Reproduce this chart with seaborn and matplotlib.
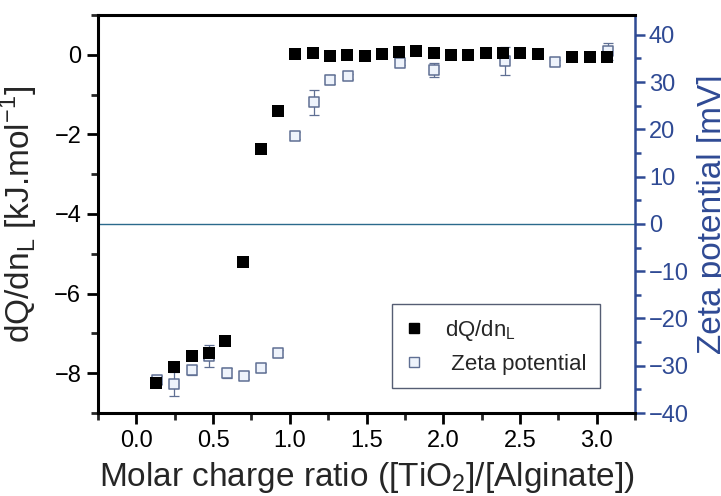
import numpy as np
import pandas as pd
import matplotlib
matplotlib.use("Agg")
import matplotlib.pyplot as plt
from matplotlib.lines import Line2D
from matplotlib.ticker import MultipleLocator
from matplotlib import font_manager
import seaborn as sns

# ---- data ----
ratio_dq = [0.128, 0.243, 0.361, 0.472, 0.580, 0.696, 0.810, 0.920, 1.035, 1.150,
            1.264, 1.374, 1.487, 1.600, 1.715, 1.825, 1.940, 2.050, 2.160, 2.277,
            2.390, 2.500, 2.620, 2.840, 2.955, 3.070]
dq_values = [-8.25, -7.84, -7.58, -7.48, -7.18, -5.21, -2.37, -1.40, 0.01, 0.04,
             -0.02, 0.00, -0.02, 0.02, 0.08, 0.10, 0.04, 0.00, 0.00, 0.04,
             0.05, 0.04, 0.01, -0.05, -0.05, -0.05]

ratio_zeta = [0.135, 0.248, 0.360, 0.476, 0.589, 0.700, 0.813, 0.926, 1.037, 1.155,
              1.265, 1.378, 1.720, 1.940, 2.400, 2.730, 3.075]
zeta_values = [-33.0, -33.9, -31.0, -27.9, -31.5, -32.1, -30.5, -27.4, 18.7, 25.7,
               30.5, 31.2, 34.1, 32.6, 34.5, 34.2, 36.5]
zeta_err = [0.8, 2.5, 1.0, 2.3, 1.0, 0.8, 0.8, 0.8, 0.8, 2.6,
            1.0, 0.5, 0.5, 1.5, 3.0, 0.5, 1.8]

x_ticks = [0.0, 0.5, 1.0, 1.5, 2.0, 2.5, 3.0]
left_ticks = [-8, -6, -4, -2, 0]
right_ticks = [-40, -30, -20, -10, 0, 10, 20, 30, 40]

df_dq = pd.DataFrame({"ratio": ratio_dq, "dq": dq_values})
df_z = pd.DataFrame({"ratio": ratio_zeta, "zeta": zeta_values, "err": zeta_err})

# ---- style ----
sns.set_style("ticks")
names = {f.name for f in font_manager.fontManager.ttflist}
narrow = "Liberation Sans Narrow" if "Liberation Sans Narrow" in names else "Liberation Sans"
plt.rcParams["font.family"] = ["Liberation Sans", "DejaVu Sans"]
plt.rcParams["mathtext.fontset"] = "custom"
plt.rcParams["mathtext.rm"] = "Liberation Sans"

BLUE = "#2f4a94"
ZEDGE = "#5f6f93"
ZFILL = "#eef3fb"

fig = plt.figure(figsize=(7.21, 4.96), dpi=100)
ax = fig.add_axes([98/721, 1-413/496, (635-98)/721, (413-15)/496])
ax2 = ax.twinx()

# zero line of zeta
ax2.axhline(0, color="#2b6a8c", lw=1.0, zorder=1)

sns.scatterplot(data=df_dq, x="ratio", y="dq", ax=ax, marker="s", s=8.6**2,
                color="black", edgecolor="black", linewidth=0, zorder=3, legend=False)

ax2.errorbar(df_z["ratio"], df_z["zeta"], yerr=df_z["err"], fmt="none",
             ecolor=ZEDGE, elinewidth=0.9, capsize=3.5, capthick=0.9, zorder=3)
sns.scatterplot(data=df_z, x="ratio", y="zeta", ax=ax2, marker="s", s=7.6**2,
                color=ZFILL, edgecolor=ZEDGE, linewidth=1.1, zorder=4, legend=False)

# put left axis above? keep twin on top for markers
ax.set_zorder(ax2.get_zorder() + 1)
ax.patch.set_visible(False)

ax.set_xlim(-0.25, 3.25)
ax.set_ylim(-9, 1)
ax2.set_ylim(-40, 44.2)

ax.set_xticks(x_ticks)
ax.set_xticklabels([f"{v:.1f}" for v in x_ticks])
ax.xaxis.set_minor_locator(MultipleLocator(0.25))
ax.set_yticks(left_ticks)
ax.yaxis.set_minor_locator(MultipleLocator(1))
ax2.set_yticks(right_ticks)
ax2.yaxis.set_minor_locator(MultipleLocator(5))

for s in ["left", "bottom", "top"]:
    ax.spines[s].set_linewidth(2.2)
    ax.spines[s].set_color("black")
ax.spines["right"].set_visible(False)
for s in ["left", "bottom", "top"]:
    ax2.spines[s].set_visible(False)
ax2.spines["right"].set_linewidth(1.8)
ax2.spines["right"].set_color(BLUE)

ax.tick_params(axis="both", which="major", direction="out", length=8, width=2.0,
               labelsize=17, colors="black", pad=4)
ax.tick_params(axis="both", which="minor", direction="out", length=5, width=2.0)
ax.tick_params(axis="x", which="both", top=False)
ax2.tick_params(axis="y", which="major", direction="out", length=7, width=1.8,
                labelsize=17, colors=BLUE, pad=3)
ax2.tick_params(axis="y", which="minor", direction="out", length=4, width=1.8, colors=BLUE)

ax.set_xlabel("Molar charge ratio ([TiO$_\\mathregular{2}$]/[Alginate])", fontsize=24,
              labelpad=6)
ax.set_ylabel("dQ/dn$_\\mathregular{L}$ [kJ.mol$^\\mathregular{-1}$]", fontsize=24,
              labelpad=10)
ax2.set_ylabel("Zeta potential [mV]", fontsize=29 if narrow != "Liberation Sans" else 24,
               color=BLUE, family=[narrow, "DejaVu Sans"], labelpad=6)

handles = [
    Line2D([], [], marker="s", ls="none", markersize=7, markerfacecolor="black",
           markeredgecolor="black"),
    Line2D([], [], marker="s", ls="none", markersize=7, markerfacecolor=ZFILL,
           markeredgecolor=ZEDGE, markeredgewidth=1.0),
]
leg = ax.legend(handles, ["dQ/dn$_\\mathregular{L}$", " Zeta potential"],
                loc="lower right", bbox_to_anchor=(0.955, 0.035), fontsize=16,
                frameon=True, fancybox=False, handlelength=0.8, handletextpad=1.0,
                borderpad=0.6, labelspacing=0.5)
leg.get_frame().set_edgecolor("#2a3550")
leg.get_frame().set_linewidth(1.0)

fig.savefig("out.png", dpi=100)
